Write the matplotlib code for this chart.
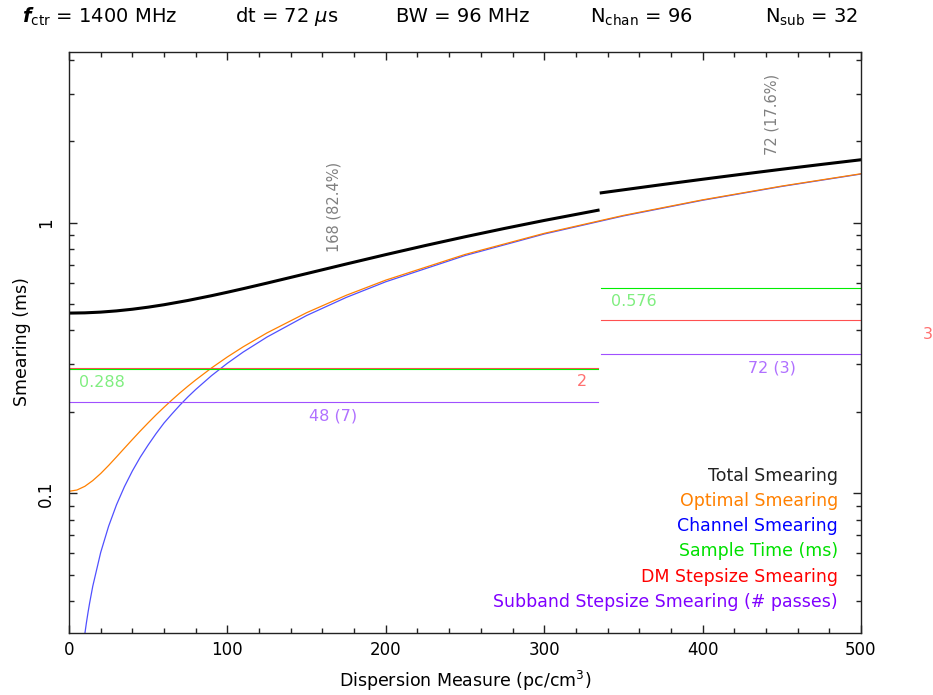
import numpy as np
import matplotlib
matplotlib.use("Agg")
import matplotlib.pyplot as plt
from matplotlib.ticker import MultipleLocator, LogLocator, NullFormatter, FixedLocator, FixedFormatter

plt.rcParams['font.family'] = ['DejaVu Sans']
plt.rcParams['mathtext.fontset'] = 'dejavusans'

# ---- header values
header = [r"$\boldsymbol{f}_{\rm ctr}$ = 1400 MHz", r"dt = 72 $\mu$s", "BW = 96 MHz",
          r"N$_{\rm chan}$ = 96", r"N$_{\rm sub}$ = 32"]

# ---- smearing curves (ms) vs DM (pc/cm^3)
chan_dms   = [5, 8, 10, 11, 12, 13, 15, 20, 25, 30, 35, 40, 45, 50, 55, 60, 65, 70, 75, 80, 90,
              100, 110, 125, 150, 175, 200, 250, 300, 350, 400, 450, 500]
chan_smear = [0.0151, 0.0242, 0.0303, 0.0333, 0.0363, 0.0393, 0.0454, 0.0605, 0.0756, 0.0908,
              0.1059, 0.121, 0.1361, 0.151, 0.1664, 0.182, 0.1966, 0.2118, 0.227, 0.242, 0.2723,
              0.3025, 0.3328, 0.378, 0.454, 0.5294, 0.605, 0.756, 0.908, 1.059, 1.21, 1.361, 1.5125]

opt_dms   = [0, 5, 10, 15, 20, 25, 30, 35, 40, 45, 50, 55, 60, 65, 70, 75, 80, 90, 100, 110,
             125, 150, 175, 200, 250, 300, 350, 400, 450, 500]
opt_smear = [0.1018, 0.1029, 0.1062, 0.1115, 0.1184, 0.1268, 0.1364, 0.1469, 0.1581, 0.1700,
             0.1823, 0.1951, 0.2081, 0.2214, 0.2350, 0.2487, 0.2625, 0.2907, 0.3192, 0.3480,
             0.3916, 0.4650, 0.5391, 0.6135, 0.7631, 0.9132, 1.0637, 1.2143, 1.3651, 1.5160]

tot1_dms   = [0, 10, 20, 30, 40, 50, 60, 75, 90, 100, 110, 125, 150, 175, 200, 225, 250, 275,
              300, 334]
tot1_smear = [0.4634, 0.4644, 0.4673, 0.4722, 0.4789, 0.4874, 0.4976, 0.5159, 0.5374, 0.5534,
              0.5705, 0.5981, 0.6485, 0.7035, 0.7621, 0.8234, 0.8869, 0.9522, 1.0190, 1.1116]
tot2_dms   = [336, 375, 400, 425, 450, 475, 500]
tot2_smear = [1.2889, 1.3839, 1.4465, 1.5103, 1.5752, 1.6410, 1.7076]

# ---- dedispersion plan steps
step_lo     = [0, 336]
step_hi     = [334, 552]
sample_time = [0.288, 0.576]
dm_step_sm  = [0.2904, 0.4356]
sub_step_sm = [0.2178, 0.3267]
dt_labels   = ["0.288", "0.576"]
ddm_labels  = ["2", "3"]
sub_labels  = ["48 (7)", "72 (3)"]
work_labels = ["168 (82.4%)", "72 (17.6%)"]

legend_names  = ["Total Smearing", "Optimal Smearing", "Channel Smearing",
                 "Sample Time (ms)", "DM Stepsize Smearing", "Subband Stepsize Smearing (# passes)"]
legend_colors = ["#222222", "#ff8000", "#0000ff", "#00e000", "#ff0000", "#8000ff"]

W, H = 933, 695
fig = plt.figure(figsize=(W / 100, H / 100), dpi=100)
ax = fig.add_axes([69 / W, 1 - 633 / H, (861 - 69) / W, (633 - 52) / H])
ax.set_xlim(0, 500)
ax.set_yscale("log")
ax.set_ylim(0.0305, 4.27)

ax.plot(chan_dms, chan_smear, color="#5050ff", lw=0.9)
ax.plot(opt_dms, opt_smear, color="#ff8000", lw=0.9)

for i in range(len(step_lo)):
    x = [step_lo[i], step_hi[i]]
    ax.plot(x, [dm_step_sm[i]] * 2, color="#ff5050", lw=0.8)
    ax.plot(x, [sample_time[i]] * 2, color="#00ee00", lw=0.8)
    ax.plot(x, [sub_step_sm[i]] * 2, color="#a050ff", lw=0.8)
    mid = 0.5 * (step_lo[i] + step_hi[i])
    ax.annotate(dt_labels[i], (step_lo[i] + 6, sample_time[i]), xytext=(0, -10),
                textcoords="offset points", ha="left", va="center",
                color="#80ee80", fontsize=11.5)
    ax.annotate(ddm_labels[i], (step_hi[i] - 10, dm_step_sm[i]), xytext=(0, -10),
                textcoords="offset points", ha="center", va="center",
                color="#ff7070", fontsize=11.5, annotation_clip=False)
    ax.annotate(sub_labels[i], (mid, sub_step_sm[i]), xytext=(0, -10),
                textcoords="offset points", ha="center", va="center",
                color="#b070ff", fontsize=11.5)

ax.plot(tot1_dms, tot1_smear, color="black", lw=2.2)
ax.plot(tot2_dms, tot2_smear, color="black", lw=2.2)

tot_dms = [tot1_dms, tot2_dms]
tot_sm = [tot1_smear, tot2_smear]
for i in range(len(step_lo)):
    mid = 0.5 * (step_lo[i] + step_hi[i])
    ax.annotate(work_labels[i], (mid, np.interp(mid, tot_dms[i], tot_sm[i])), xytext=(0, 11),
                textcoords="offset points", ha="center", va="bottom", rotation=90,
                color="#808080", fontsize=10.5)

# axes styling, ticks on all sides pointing in
ax.xaxis.set_major_locator(MultipleLocator(100))
ax.xaxis.set_minor_locator(MultipleLocator(20))
ax.yaxis.set_major_locator(FixedLocator([0.1, 1]))
ax.yaxis.set_major_formatter(FixedFormatter(["0.1", "1"]))
ax.yaxis.set_minor_locator(LogLocator(base=10, subs=np.arange(2, 10)))
ax.yaxis.set_minor_formatter(NullFormatter())
ax.tick_params(which="both", direction="in", top=True, right=True, width=1.0, color="#222222")
ax.tick_params(which="major", length=6)
ax.tick_params(which="minor", length=3.5)
ax.tick_params(axis="x", labelsize=12, pad=6)
ax.tick_params(axis="y", labelsize=12, pad=10)
for lab in ax.get_yticklabels():
    lab.set_rotation(90)
    lab.set_va("center")
for s in ax.spines.values():
    s.set_linewidth(1.0)
    s.set_color("#222222")

fig.text(465 / W, 1 - 681 / H, r"Dispersion Measure (pc/cm$^3$)", ha="center", va="center", fontsize=12.5)
fig.text(22 / W, 1 - 342 / H, "Smearing (ms)", ha="center", va="center", rotation=90, fontsize=12.5)

header_x = [22, 235, 396, 590, 765]
for txt, x in zip(header, header_x):
    fig.text(x / W, 1 - 17 / H, txt, ha="left", va="center", fontsize=14)

legend_y = [476, 501, 526, 551, 577, 602]
for name, col, y in zip(legend_names, legend_colors, legend_y):
    fig.text(838 / W, 1 - y / H, name, ha="right", va="center", color=col, fontsize=12.5)

fig.savefig("out.png", dpi=100)
